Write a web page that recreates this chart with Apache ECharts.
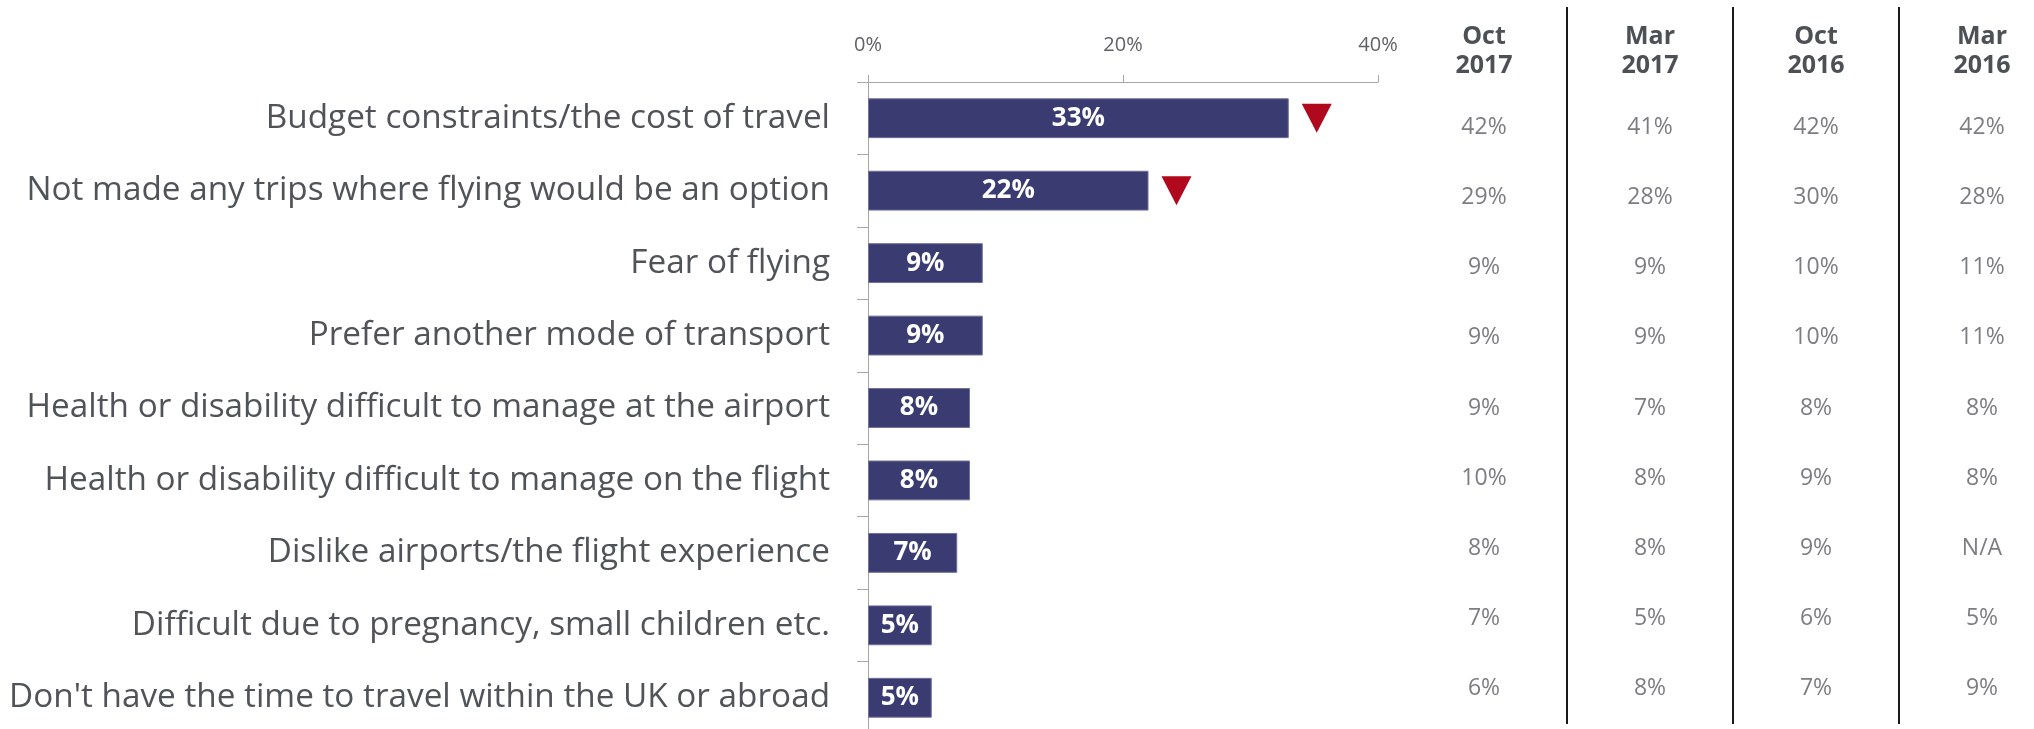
<!DOCTYPE html>
<html>
<head>
<meta charset="utf-8">
<title>Reasons for not flying</title>
<script src="https://cdn.jsdelivr.net/npm/echarts@6/dist/echarts.min.js"></script>
<style>
  html, body { margin: 0; padding: 0; background: #fff; }
  #chart { width: 2034px; height: 729px; }
</style>
</head>
<body>
<div id="chart"></div>
<script>
// reasons, top to bottom
const reasons = [
  'Budget constraints/the cost of travel',
  'Not made any trips where flying would be an option',
  'Fear of flying',
  'Prefer another mode of transport',
  'Health or disability difficult to manage at the airport',
  'Health or disability difficult to manage on the flight',
  'Dislike airports/the flight experience',
  'Difficult due to pregnancy, small children etc.',
  "Don't have the time to travel within the UK or abroad"
]
// latest wave (bars)
const latest = [33, 22, 9, 9, 8, 8, 7, 5, 5]
// rows with a significant fall (red arrow)
const fellSignificantly = [true, true, false, false, false, false, false, false, false]
const xTicks = [0, 20, 40]

// comparison table
const waves = ['Oct\n2017', 'Mar\n2017', 'Oct\n2016', 'Mar\n2016']
const oct2017 = [42, 29, 9, 9, 9, 10, 8, 7, 6]
const mar2017 = [41, 28, 9, 9, 7, 8, 8, 5, 8]
const oct2016 = [42, 30, 10, 10, 8, 9, 9, 6, 7]
const mar2016 = [42, 28, 11, 11, 8, 8, null, 5, 9]

const font = "'Open Sans', 'DejaVu Sans', sans-serif"
const axisGrey = '#a6a6a6'
const textGrey = '#505458'

const tableCols = [oct2017, mar2017, oct2016, mar2016]
const tableData = []
tableCols.forEach((col, c) => {
  col.forEach((v, r) => tableData.push([c, r, v]))
})

const arrowData = latest
  .map((v, i) => (fellSignificantly[i] ? [v, i] : null))
  .filter(d => d)

const chart = echarts.init(document.getElementById('chart'))
chart.setOption({
  animation: false,
  textStyle: { fontFamily: font },
  grid: [
    { left: 868, top: 82, width: 510, height: 652, outerBoundsMode: 'none' },
    { left: 1401, top: 92, width: 664, height: 632, outerBoundsMode: 'none' }
  ],
  xAxis: [
    {
      gridIndex: 0,
      type: 'value',
      position: 'top',
      min: xTicks[0],
      max: xTicks[xTicks.length - 1],
      interval: xTicks[1] - xTicks[0],
      axisLine: { show: true, lineStyle: { color: axisGrey } },
      axisTick: { show: true, length: 7, lineStyle: { color: axisGrey } },
      splitLine: { show: false },
      axisLabel: { formatter: '{value}%', fontSize: 20, color: '#5f6266', margin: 27 }
    },
    {
      gridIndex: 1,
      type: 'category',
      position: 'top',
      data: waves,
      axisLine: { show: false },
      axisTick: {
        show: true,
        length: 85,
        interval: (i) => i !== 0,
        lineStyle: { color: '#1a1a1a', width: 2 }
      },
      splitLine: {
        show: true,
        interval: (i) => i !== 0,
        lineStyle: { color: '#1a1a1a', width: 2 }
      },
      axisLabel: {
        interval: 0,
        fontSize: 25,
        fontWeight: 'bold',
        lineHeight: 29,
        color: '#4d5155',
        margin: 12
      }
    }
  ],
  yAxis: [
    {
      gridIndex: 0,
      type: 'category',
      inverse: true,
      data: reasons,
      axisLine: { show: true, lineStyle: { color: axisGrey } },
      axisTick: { show: true, length: 11, lineStyle: { color: axisGrey } },
      axisLabel: { fontSize: 33.3, color: textGrey, margin: 38 }
    },
    {
      gridIndex: 1,
      type: 'category',
      inverse: true,
      data: reasons,
      show: false
    }
  ],
  series: [
    {
      type: 'bar',
      xAxisIndex: 0,
      yAxisIndex: 0,
      data: latest,
      barWidth: '55%',
      itemStyle: { color: '#3a3c71', borderColor: '#6e7099', borderWidth: 1 },
      label: {
        show: true,
        position: 'inside',
        formatter: '{c}%',
        color: '#fff',
        fontSize: 26,
        fontWeight: 'bold'
      }
    },
    {
      type: 'scatter',
      xAxisIndex: 0,
      yAxisIndex: 0,
      data: arrowData,
      symbol: 'triangle',
      symbolRotate: 180,
      symbolSize: [30, 29],
      symbolOffset: [28, 0],
      itemStyle: { color: '#b0091d', opacity: 1 }
    },
    {
      type: 'scatter',
      xAxisIndex: 1,
      yAxisIndex: 1,
      data: tableData,
      symbolSize: 1,
      itemStyle: { color: 'rgba(0,0,0,0)' },
      label: {
        show: true,
        position: 'inside',
        fontSize: 23,
        color: '#5a5d61',
        formatter: (p) => (p.value[2] == null ? 'N/A' : p.value[2] + '%')
      }
    }
  ]
})
</script>
</body>
</html>
